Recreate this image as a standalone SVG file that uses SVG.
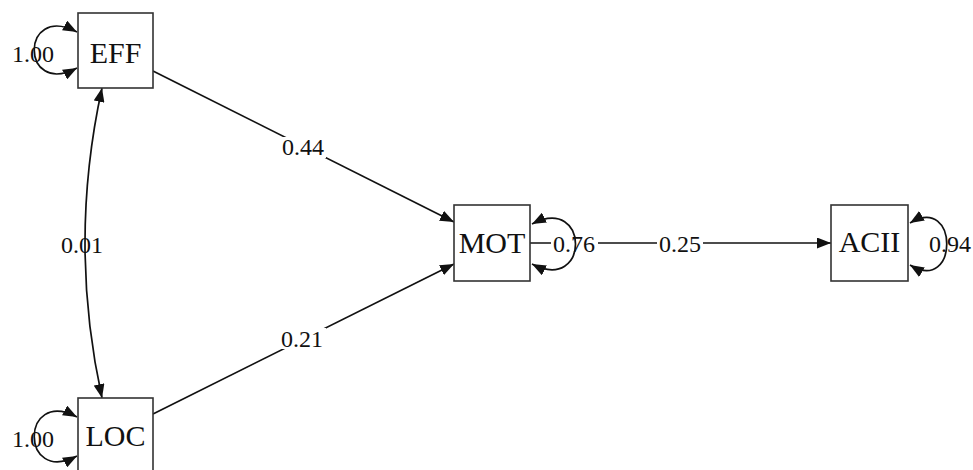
<svg xmlns="http://www.w3.org/2000/svg" width="973" height="470" viewBox="0 0 973 470">
<style>
.box{fill:#fff;stroke:#333;stroke-width:1.6}
.lbl{font-family:"Liberation Serif","Times New Roman",serif;font-size:30px;fill:#111;text-anchor:middle}
.num{font-family:"Liberation Serif","Times New Roman",serif;font-size:24px;fill:#111;text-anchor:middle}
.ln{fill:none;stroke:#111;stroke-width:1.7}
.bg{fill:#fff}
</style>
<defs>
<marker id="ah" viewBox="0 0 14 11" refX="14" refY="5.5" markerWidth="14" markerHeight="11" markerUnits="userSpaceOnUse" orient="auto-start-reverse">
<path d="M0,0 L14,5.5 L0,11 Z" fill="#111"/>
</marker>
</defs>
<rect width="973" height="470" fill="#fff"/>
<g id="connectors">
<line class="ln" x1="153" y1="71" x2="454" y2="222" marker-end="url(#ah)"/>
<line class="ln" x1="153" y1="414" x2="454" y2="264" marker-end="url(#ah)"/>
<line class="ln" x1="530" y1="243" x2="831" y2="243" marker-end="url(#ah)"/>
<rect class="bg" x="280" y="137" width="46" height="21"/>
<rect class="bg" x="280" y="328" width="46" height="21"/>
<rect class="bg" x="551" y="232" width="47" height="21"/>
<rect class="bg" x="657" y="232" width="46" height="21"/>
<text class="num" x="303" y="155">0.44</text>
<text class="num" x="302" y="347">0.21</text>
<text class="num" x="574" y="252">0.76</text>
<text class="num" x="680" y="252">0.25</text>
<text class="num" x="82" y="253">0.01</text>
<text class="num" x="33" y="62">1.00</text>
<text class="num" x="33" y="447">1.00</text>
<text class="num" x="950" y="252">0.94</text>
<path class="ln" d="M102,88 Q68,243 102,398" marker-start="url(#ah)" marker-end="url(#ah)"/>
<path class="ln" d="M77,32 C20,2 20,98 77,68" marker-start="url(#ah)" marker-end="url(#ah)"/>
<path class="ln" d="M77,417 C20,387 20,486 77,456" marker-start="url(#ah)" marker-end="url(#ah)"/>
<path class="ln" d="M532,224 C590,194 590,294 532,264" marker-start="url(#ah)" marker-end="url(#ah)"/>
<path class="ln" d="M910,223 C959,193 959,295 910,265" marker-start="url(#ah)" marker-end="url(#ah)"/>
</g>
<g id="EFF"><rect class="box" x="78" y="13" width="75" height="75"/><text class="lbl" x="115.5" y="63">EFF</text></g>
<g id="LOC"><rect class="box" x="78" y="398" width="75" height="75"/><text class="lbl" x="115.5" y="446">LOC</text></g>
<g id="MOT"><rect class="box" x="454" y="205" width="76" height="76"/><text class="lbl" x="492" y="253">MOT</text></g>
<g id="ACII"><rect class="box" x="831" y="205" width="77" height="76"/><text class="lbl" x="869.5" y="252">ACII</text></g>
</svg>
